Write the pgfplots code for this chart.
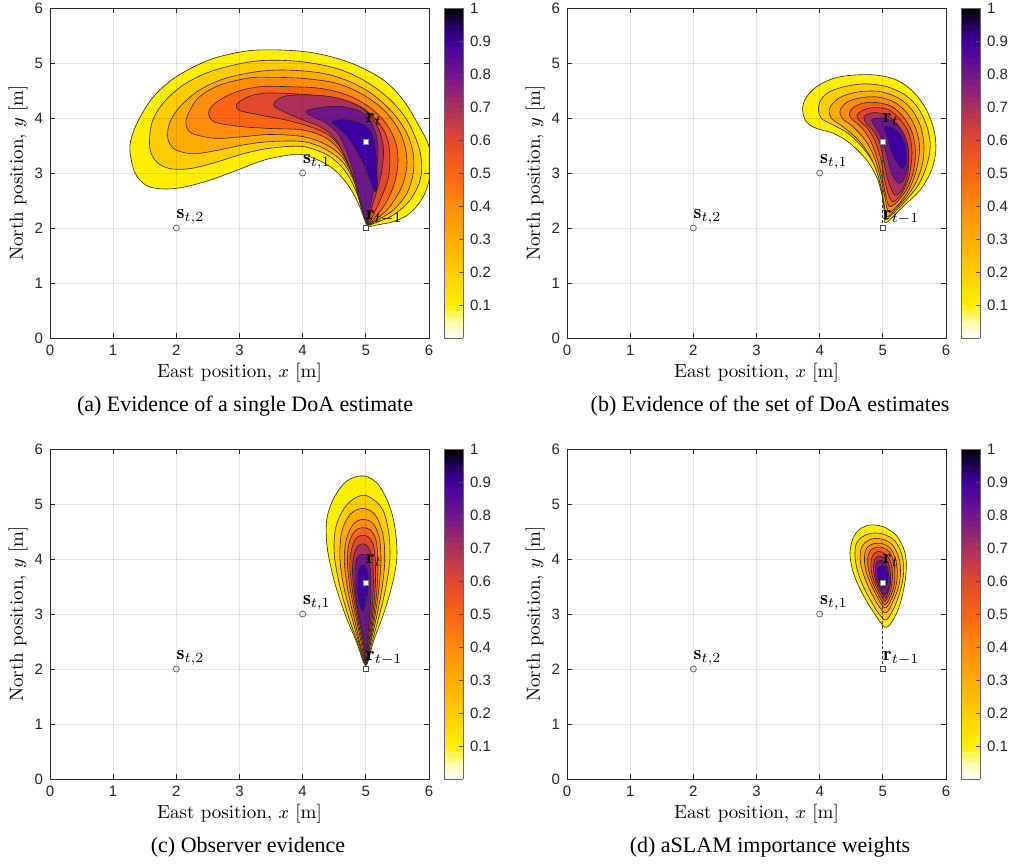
\documentclass[border=0pt]{standalone}
\usepackage{fontspec}
\usepackage{pgfplots}
\pgfplotsset{compat=1.18}
\setsansfont{Liberation Sans}
\newfontfamily\capfont{Liberation Serif}
\newcommand\ticksf{\fontsize{7.5}{9}\selectfont\sffamily}
\newcommand\labf{\fontsize{9.5}{11}\selectfont}
\newcommand\capf{\fontsize{11}{13}\selectfont\capfont}
\definecolor{c1}{RGB}{255,238,0}
\definecolor{c2}{RGB}{255,205,0}
\definecolor{c3}{RGB}{255,172,0}
\definecolor{c4}{RGB}{255,140,10}
\definecolor{c5}{RGB}{250,100,20}
\definecolor{c6}{RGB}{225,72,45}
\definecolor{c7}{RGB}{172,48,92}
\definecolor{c8}{RGB}{112,22,140}
\definecolor{c9}{RGB}{62,0,160}
\pgfkeys{/pgf/number format/assume math mode=true}
\pgfplotsset{
  colormap={mycm}{rgb255(0)=(255,255,255) rgb255(1)=(255,250,170) rgb255(2)=(255,240,0) rgb255(4)=(255,205,0) rgb255(6)=(255,172,0) rgb255(8)=(255,140,10) rgb255(10)=(250,100,20) rgb255(12)=(225,72,45) rgb255(14)=(172,48,92) rgb255(16)=(112,22,140) rgb255(18)=(62,0,160) rgb255(19)=(35,0,90) rgb255(20)=(0,0,0)},
  ct/.style={draw=black!85, line width=0.3pt, fill=#1, smooth cycle, tension=0.55},
  myaxis/.style={scale only axis, width=189.5pt, height=165pt,
    xmin=0, xmax=6, ymin=0, ymax=6, xtick={0,...,6}, ytick={0,...,6},
    grid=major, major grid style={black, opacity=0.1, line width=0.4pt},
    axis line style={black!85, line width=0.4pt},
    tick style={black!85, line width=0.4pt}, major tick length=2.5pt, tick align=inside,
    ticklabel style={font=\ticksf, text=black!85},
    axis on top,
    colorbar sampled, colormap name=mycm, point meta min=0, point meta max=1,
    colorbar style={at={(parent axis.north east)}, anchor=north west, xshift=-1pt,
      scale only axis, width=9.5pt, height=165pt, samples=61,
      ymin=0, ymax=1, ytick={0.1,0.2,0.3,0.4,0.5,0.6,0.7,0.8,0.9,1},
      ytick pos=right, yticklabel pos=right, tick align=inside, major tick length=2pt,
      axis line style={black!60, line width=0.4pt}, tick style={black!70},
      yticklabel style={font=\ticksf, text=black!85}},
  },
}
\newcommand\extras{%
  \addplot[black!75, line width=0.4pt, dash pattern=on 1.5pt off 1pt] coordinates {(5,2) (5,3.57)};
  \addplot[only marks, mark=o, mark size=1.5pt, draw=black!60, line width=0.4pt] coordinates {(4,3) (2,2)};
  \addplot[only marks, mark=square*, mark size=1.3pt, fill=white, draw=black!45, line width=0.4pt] coordinates {(5,3.57)};
  \addplot[only marks, mark=square*, mark size=1.3pt, fill=white, draw=black!70, line width=0.4pt] coordinates {(5,2)};
  \node[anchor=base west, inner sep=0pt] at (axis cs:4,3.17) {$\mathbf{s}_{t,1}$};
  \node[anchor=base west, inner sep=0pt] at (axis cs:2,2.18) {$\mathbf{s}_{t,2}$};
  \node[anchor=base west, inner sep=0pt] at (axis cs:5,3.91) {$\mathbf{r}_{t}$};
  \node[anchor=base west, inner sep=0pt] at (axis cs:5,2.15) {$\mathbf{r}_{t-1}$};
}
\begin{document}
\begin{tikzpicture}
%================ (a)
\begin{axis}[myaxis, at={(0pt,0pt)}, anchor=south west]
\addplot[ct=c1] coordinates {(1.27,3.35) (1.35,2.99) (1.53,2.77) (1.79,2.71) (2.11,2.74) (2.53,2.87) (2.96,3.05) (3.32,3.21) (3.64,3.30) (4.01,3.33) (4.43,3.12) (4.70,2.81) (4.88,2.45) (4.99,2.12) (5.04,2.03) (5.20,2.06) (5.45,2.12) (5.70,2.27) (5.91,2.57) (6.02,2.95) (6.04,3.25) (5.98,3.55) (5.82,3.90) (5.59,4.33) (5.28,4.69) (4.85,4.96) (4.43,5.12) (4.01,5.21) (3.48,5.24) (3.06,5.21) (2.53,5.06) (2.01,4.76) (1.64,4.39) (1.40,3.96) (1.28,3.60)};
\addplot[ct=c2] coordinates {(1.58,3.45) (1.69,3.20) (1.90,3.08) (2.22,3.08) (2.64,3.20) (3.06,3.35) (3.48,3.45) (4.01,3.48) (4.43,3.30) (4.70,2.99) (4.88,2.57) (4.99,2.15) (5.04,2.05) (5.12,2.08) (5.44,2.24) (5.70,2.51) (5.86,2.87) (5.88,3.24) (5.80,3.60) (5.62,4.02) (5.33,4.39) (4.96,4.69) (4.54,4.90) (4.01,5.02) (3.48,5.05) (3.06,5.00) (2.53,4.84) (2.11,4.60) (1.79,4.27) (1.61,3.90)};
\addplot[ct=c3] coordinates {(1.86,3.68) (1.90,3.52) (2.01,3.41) (2.27,3.35) (2.64,3.41) (3.06,3.51) (3.48,3.57) (4.01,3.57) (4.38,3.42) (4.67,3.15) (4.87,2.69) (4.98,2.21) (5.04,2.06) (5.15,2.12) (5.44,2.33) (5.65,2.63) (5.75,2.99) (5.75,3.36) (5.65,3.72) (5.44,4.08) (5.12,4.42) (4.75,4.66) (4.33,4.81) (3.80,4.87) (3.33,4.85) (2.80,4.73) (2.37,4.51) (2.06,4.21) (1.90,3.93)};
\addplot[ct=c4] coordinates {(2.15,3.93) (2.20,3.76) (2.32,3.69) (2.64,3.63) (3.06,3.66) (3.48,3.70) (4.01,3.66) (4.38,3.51) (4.64,3.27) (4.84,2.81) (4.96,2.27) (5.04,2.07) (5.16,2.15) (5.38,2.39) (5.57,2.75) (5.65,3.12) (5.62,3.48) (5.51,3.81) (5.28,4.15) (4.96,4.42) (4.54,4.63) (4.01,4.72) (3.48,4.74) (3.16,4.73) (2.69,4.60) (2.37,4.39) (2.22,4.15)};
\addplot[ct=c5] coordinates {(2.51,4.09) (2.56,3.96) (2.69,3.90) (3.06,3.84) (3.48,3.81) (4.01,3.78) (4.38,3.63) (4.62,3.36) (4.83,2.87) (4.95,2.30) (5.04,2.08) (5.16,2.21) (5.33,2.48) (5.46,2.84) (5.51,3.24) (5.46,3.60) (5.30,3.93) (5.04,4.21) (4.70,4.42) (4.27,4.54) (3.75,4.57) (3.33,4.57) (2.96,4.48) (2.69,4.33) (2.56,4.21)};
\addplot[ct=c6] coordinates {(2.95,4.24) (3.00,4.14) (3.17,4.09) (3.48,4.02) (3.75,3.96) (4.12,3.84) (4.41,3.69) (4.62,3.42) (4.80,2.93) (4.93,2.36) (5.04,2.09) (5.13,2.27) (5.25,2.57) (5.36,2.93) (5.38,3.33) (5.33,3.66) (5.17,3.96) (4.91,4.21) (4.54,4.36) (4.12,4.42) (3.69,4.45) (3.38,4.45) (3.12,4.38)};
\addplot[ct=c7] coordinates {(3.54,4.24) (3.69,4.12) (4.01,3.96) (4.33,3.81) (4.56,3.54) (4.78,2.99) (4.92,2.42) (5.03,2.10) (5.09,2.36) (5.17,2.66) (5.25,3.02) (5.28,3.42) (5.22,3.75) (5.07,4.05) (4.80,4.27) (4.43,4.39) (4.01,4.42) (3.69,4.39)};
\addplot[ct=c8] coordinates {(4.05,4.12) (4.15,4.03) (4.38,3.90) (4.59,3.66) (4.78,3.12) (4.91,2.51) (5.02,2.12) (5.07,2.39) (5.13,2.75) (5.18,3.18) (5.18,3.60) (5.09,3.90) (4.91,4.12) (4.59,4.21) (4.27,4.19)};
\addplot[ct=c9] coordinates {(4.46,3.93) (4.53,3.86) (4.75,3.60) (4.96,3.18) (5.09,2.81) (5.15,2.66) (5.18,2.78) (5.17,3.18) (5.13,3.60) (5.04,3.81) (4.85,3.93) (4.62,3.97)};
\extras
\end{axis}
%================ (b)
\begin{axis}[myaxis, at={(258.5pt,0pt)}, anchor=south west]
\addplot[ct=c1] coordinates {(3.73,4.15) (3.79,3.93) (3.95,3.81) (4.22,3.72) (4.48,3.54) (4.74,3.24) (4.90,2.93) (4.98,2.63) (5.02,2.33) (5.03,2.10) (5.11,2.15) (5.32,2.39) (5.59,2.69) (5.77,3.05) (5.84,3.42) (5.81,3.78) (5.69,4.15) (5.48,4.48) (5.22,4.69) (4.90,4.78) (4.53,4.78) (4.22,4.72) (3.95,4.57) (3.78,4.36)};
\addplot[ct=c2] coordinates {(3.98,4.15) (4.03,3.99) (4.22,3.87) (4.45,3.72) (4.69,3.45) (4.88,3.12) (4.97,2.75) (5.02,2.39) (5.04,2.15) (5.14,2.24) (5.35,2.48) (5.56,2.78) (5.69,3.12) (5.75,3.48) (5.70,3.84) (5.56,4.18) (5.35,4.42) (5.06,4.57) (4.74,4.62) (4.43,4.58) (4.16,4.48) (4.02,4.33)};
\addplot[ct=c3] coordinates {(4.15,4.15) (4.19,3.99) (4.37,3.84) (4.61,3.60) (4.80,3.30) (4.93,2.93) (5.01,2.51) (5.06,2.21) (5.19,2.33) (5.38,2.57) (5.53,2.84) (5.63,3.18) (5.65,3.51) (5.60,3.84) (5.46,4.15) (5.25,4.36) (4.96,4.48) (4.64,4.48) (4.37,4.40) (4.22,4.28)};
\addplot[ct=c4] coordinates {(4.32,4.12) (4.36,3.99) (4.53,3.84) (4.72,3.60) (4.86,3.30) (4.96,2.93) (5.03,2.57) (5.09,2.30) (5.22,2.39) (5.38,2.63) (5.49,2.90) (5.56,3.21) (5.58,3.51) (5.52,3.81) (5.39,4.08) (5.19,4.28) (4.93,4.38) (4.66,4.37) (4.45,4.30) (4.36,4.21)};
\addplot[ct=c5] coordinates {(4.47,4.08) (4.51,3.98) (4.65,3.84) (4.80,3.60) (4.91,3.27) (4.99,2.90) (5.05,2.57) (5.11,2.39) (5.23,2.48) (5.37,2.69) (5.46,2.93) (5.51,3.21) (5.51,3.48) (5.46,3.75) (5.33,4.01) (5.14,4.21) (4.90,4.28) (4.69,4.27) (4.53,4.19)};
\addplot[ct=c6] coordinates {(4.59,4.05) (4.63,3.95) (4.76,3.81) (4.88,3.57) (4.97,3.24) (5.03,2.87) (5.09,2.60) (5.16,2.48) (5.26,2.57) (5.37,2.78) (5.43,3.02) (5.46,3.30) (5.45,3.54) (5.39,3.78) (5.26,3.99) (5.09,4.15) (4.88,4.19) (4.70,4.15)};
\addplot[ct=c7] coordinates {(4.70,4.01) (4.74,3.90) (4.86,3.75) (4.96,3.51) (5.02,3.18) (5.09,2.84) (5.19,2.60) (5.30,2.69) (5.38,2.90) (5.41,3.18) (5.40,3.45) (5.34,3.69) (5.22,3.90) (5.06,4.05) (4.88,4.10) (4.76,4.07)};
\addplot[ct=c8] coordinates {(4.82,3.96) (4.88,3.84) (4.98,3.63) (5.06,3.33) (5.14,2.99) (5.25,2.81) (5.33,2.88) (5.39,3.10) (5.41,3.36) (5.37,3.60) (5.28,3.81) (5.14,3.95) (4.98,3.99) (4.88,3.99)};
\addplot[ct=c9] coordinates {(5.02,3.84) (5.07,3.66) (5.14,3.39) (5.23,3.18) (5.31,3.08) (5.36,3.16) (5.37,3.33) (5.34,3.54) (5.27,3.71) (5.17,3.81) (5.07,3.85)};
\extras
\end{axis}
%================ (c)
\begin{axis}[myaxis, at={(0pt,-220.5pt)}, anchor=south west]
\addplot[ct=c1] coordinates {(5.0,2.07) (5.12,2.5) (5.28,3.0) (5.41,3.5) (5.49,4.0) (5.47,4.5) (5.38,4.95) (5.2,5.35) (4.97,5.51) (4.70,5.42) (4.49,5.1) (4.38,4.7) (4.39,4.2) (4.50,3.6) (4.67,3.0) (4.85,2.5)};
\addplot[ct=c2] coordinates {(5.0,2.07) (5.10,2.5) (5.22,3.0) (5.32,3.5) (5.38,4.0) (5.36,4.5) (5.25,4.93) (4.98,5.16) (4.71,5.0) (4.53,4.6) (4.50,4.1) (4.59,3.5) (4.74,2.9) (4.88,2.45)};
\addplot[ct=c3] coordinates {(5.0,2.07) (5.08,2.5) (5.18,3.0) (5.26,3.5) (5.30,4.0) (5.27,4.45) (5.15,4.8) (4.96,4.92) (4.76,4.82) (4.62,4.5) (4.59,4.0) (4.66,3.45) (4.80,2.85) (4.91,2.4)};
\addplot[ct=c4] coordinates {(5.0,2.07) (5.07,2.5) (5.15,3.0) (5.21,3.5) (5.24,4.0) (5.21,4.4) (5.11,4.65) (4.95,4.72) (4.80,4.63) (4.69,4.35) (4.66,3.95) (4.72,3.4) (4.83,2.85) (4.92,2.4)};
\addplot[ct=c5] coordinates {(5.0,2.07) (5.06,2.5) (5.13,3.0) (5.18,3.5) (5.19,4.0) (5.16,4.35) (5.07,4.53) (4.94,4.57) (4.82,4.5) (4.73,4.27) (4.71,3.9) (4.76,3.4) (4.86,2.85) (4.94,2.4)};
\addplot[ct=c6] coordinates {(5.0,2.1) (5.05,2.5) (5.11,3.0) (5.15,3.5) (5.15,3.95) (5.12,4.25) (5.04,4.40) (4.94,4.43) (4.84,4.37) (4.77,4.15) (4.75,3.85) (4.79,3.4) (4.88,2.85) (4.95,2.45)};
\addplot[ct=c7] coordinates {(5.0,2.15) (5.04,2.55) (5.09,3.0) (5.12,3.5) (5.11,3.9) (5.07,4.15) (5.0,4.26) (4.92,4.27) (4.85,4.2) (4.80,4.0) (4.79,3.7) (4.83,3.3) (4.90,2.85) (4.96,2.5)};
\addplot[ct=c8] coordinates {(5.0,2.3) (5.04,2.7) (5.07,3.1) (5.08,3.5) (5.07,3.8) (5.02,4.03) (4.94,4.09) (4.87,4.03) (4.83,3.85) (4.83,3.5) (4.87,3.1) (4.94,2.7)};
\addplot[ct=c9] coordinates {(4.95,3.05) (5.02,3.3) (5.04,3.6) (5.01,3.82) (4.95,3.89) (4.89,3.8) (4.87,3.55) (4.89,3.25)};
\extras
\end{axis}
%================ (d)
\begin{axis}[myaxis, at={(258.5pt,-220.5pt)}, anchor=south west]
\addplot[ct=c1] coordinates {(4.52,4.35) (4.48,4.10) (4.52,3.80) (4.62,3.50) (4.77,3.18) (4.92,2.92) (5.03,2.76) (5.12,2.82) (5.24,3.07) (5.33,3.45) (5.37,3.80) (5.35,4.12) (5.22,4.42) (5.02,4.58) (4.80,4.62) (4.62,4.53)};
\addplot[ct=c2] coordinates {(4.58,4.28) (4.56,4.05) (4.60,3.78) (4.70,3.48) (4.84,3.18) (4.96,2.97) (5.03,2.89) (5.10,2.95) (5.20,3.17) (5.29,3.48) (5.33,3.78) (5.30,4.08) (5.19,4.33) (5.01,4.45) (4.83,4.47) (4.67,4.40)};
\addplot[ct=c3] coordinates {(4.66,4.20) (4.64,4.00) (4.68,3.77) (4.77,3.50) (4.88,3.25) (4.97,3.09) (5.03,3.02) (5.09,3.07) (5.17,3.25) (5.25,3.50) (5.28,3.77) (5.25,4.04) (5.15,4.26) (5.00,4.36) (4.85,4.37) (4.73,4.31)};
\addplot[ct=c4] coordinates {(4.72,4.13) (4.71,3.95) (4.74,3.75) (4.82,3.52) (4.91,3.31) (4.98,3.17) (5.03,3.11) (5.08,3.15) (5.15,3.30) (5.21,3.52) (5.23,3.76) (5.20,4.00) (5.12,4.19) (4.99,4.28) (4.86,4.28) (4.77,4.23)};
\addplot[ct=c5] coordinates {(4.77,4.07) (4.76,3.92) (4.79,3.73) (4.85,3.53) (4.93,3.35) (4.99,3.22) (5.03,3.17) (5.07,3.21) (5.13,3.34) (5.18,3.53) (5.19,3.75) (5.17,3.96) (5.10,4.13) (4.99,4.21) (4.88,4.21) (4.81,4.16)};
\addplot[ct=c6] coordinates {(4.82,4.00) (4.81,3.87) (4.83,3.71) (4.88,3.54) (4.95,3.38) (5.00,3.28) (5.03,3.23) (5.06,3.27) (5.11,3.38) (5.14,3.54) (5.15,3.73) (5.13,3.92) (5.07,4.06) (4.98,4.13) (4.90,4.13) (4.85,4.08)};
\addplot[ct=c7] coordinates {(4.86,3.94) (4.85,3.82) (4.87,3.68) (4.91,3.54) (4.97,3.40) (5.01,3.33) (5.03,3.29) (5.06,3.32) (5.09,3.42) (5.12,3.56) (5.12,3.72) (5.10,3.88) (5.05,3.99) (4.98,4.05) (4.92,4.05) (4.88,4.01)};
\addplot[ct=c8] coordinates {(4.89,3.88) (4.88,3.78) (4.90,3.65) (4.94,3.52) (4.99,3.41) (5.03,3.35) (5.07,3.40) (5.10,3.52) (5.10,3.67) (5.08,3.82) (5.04,3.93) (4.97,3.98) (4.92,3.96)};
\addplot[ct=c9] coordinates {(4.92,3.82) (4.92,3.70) (4.95,3.57) (5.00,3.48) (5.05,3.50) (5.08,3.62) (5.08,3.75) (5.04,3.85) (4.98,3.88)};
\extras
\end{axis}
%================ labels
\node[rotate=90, font=\labf] at (-16pt,82.5pt) {North position, $y$ [m]};
\node[rotate=90, font=\labf] at (242.5pt,82.5pt) {North position, $y$ [m]};
\node[rotate=90, font=\labf] at (-16pt,-138pt) {North position, $y$ [m]};
\node[rotate=90, font=\labf] at (242.5pt,-138pt) {North position, $y$ [m]};
\node[font=\labf] at (94.75pt,-17.5pt) {East position, $x$ [m]};
\node[font=\labf] at (353.25pt,-17.5pt) {East position, $x$ [m]};
\node[font=\labf] at (94.75pt,-238pt) {East position, $x$ [m]};
\node[font=\labf] at (353.25pt,-238pt) {East position, $x$ [m]};
\node[font=\capf] at (97.5pt,-34pt) {(a) Evidence of a single DoA estimate};
\node[font=\capf] at (360pt,-34pt) {(b) Evidence of the set of DoA estimates};
\node[font=\capf] at (99pt,-254.5pt) {(c) Observer evidence};
\node[font=\capf] at (360pt,-254.5pt) {(d) aSLAM importance weights};
\pgfresetboundingbox
\useasboundingbox (-25pt,-262.5pt) rectangle (480pt,169pt);
\end{tikzpicture}
\end{document}
